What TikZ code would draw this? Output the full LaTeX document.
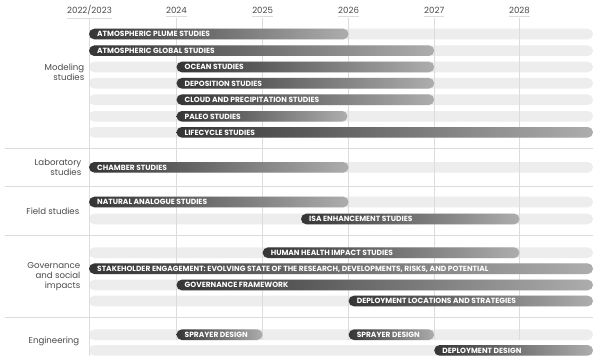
\documentclass[tikz,border=0pt]{standalone}
\usepackage{fontspec}
\setmainfont{Poppins}
\definecolor{trackgray}{HTML}{EDEDED}
\definecolor{gridgray}{HTML}{DCDCDC}
\definecolor{bardark}{HTML}{353535}
\definecolor{barlight}{HTML}{ADADAD}
\definecolor{labgray}{HTML}{4A4A4A}
\tikzset{
  trackfill/.style={fill=trackgray, rounded corners=5.3pt},
  barshade/.style={left color=bardark, right color=barlight, rounded corners=5.3pt},
  barlabel/.style={anchor=west, inner sep=0pt, text=white, font=\fontsize{7.5}{8}\selectfont\bfseries},
  yearlabel/.style={inner sep=0pt, text=labgray, font=\fontsize{8.6}{10}\selectfont},
  catlabel/.style={anchor=east, align=right, inner sep=0pt, text=labgray, font=\fontsize{8.6}{9.6}\selectfont},
  gridline/.style={draw=gridgray, line width=0.8pt},
}
\newcommand\tracks[1]{\fill[trackfill] (89,#1-5.3) rectangle (593,#1+5.3);}
\newcommand\ganttbar[5]{%
  \shade[barshade] (#3,#2-5.3) rectangle (#4,#2+5.3);
  \node[barlabel] (#1) at (#3+8,#2+0.3) {#5};}
\begin{document}
\begin{tikzpicture}[x=1pt,y=-1pt]
\useasboundingbox (0,0) rectangle (600,361);
\fill[white] (0,0) rectangle (600,361);
% years
\foreach \nm/\xx/\yy in {ya/89.5/2022\slash 2023, yb/176.5/2024, yc/262.6/2025, yd/348.6/2026, ye/434.2/2027, yf/519.5/2028}{
  \node[yearlabel] (\nm) at (\xx,10.5) {\yy};
  \draw[gridline, line width=0.6pt] ([yshift=-2.5pt]\nm.south west) -- ([yshift=-2.5pt]\nm.south east);
}
% tracks
\foreach \yy in {34,50.7,67,83.3,99.7,116.3,132.3,167.3,202,219,252.7,268.7,285,301,334.7,350.4}{\tracks{\yy}}
% grid
\foreach \xx in {176.5,262.6,348.6,434.2,519.5}{\draw[gridline] (\xx,18) -- (\xx,340);}
\draw[gridline] (89.5,18) -- (89.5,356);
\foreach \yy in {148,186.7,235.7,317.3}{\draw[gridline] (5,\yy) -- (593,\yy);}
% categories
\node[catlabel] (c1) at (84.5,72) {Modeling\\studies};
\node[catlabel] (c2) at (81.5,167.5) {Laboratory\\studies};
\node[catlabel] (c3) at (79.5,211) {Field studies};
\node[catlabel] (c4) at (80.5,276.5) {Governance\\and social\\impacts};
\node[catlabel] (c5) at (79.5,341.5) {Engineering};
% bars
\ganttbar{b1}{34}{89}{348.6}{ATMOSPHERIC PLUME STUDIES}
\ganttbar{b2}{50.7}{89}{434.2}{ATMOSPHERIC GLOBAL STUDIES}
\ganttbar{b3}{67}{176.5}{434.2}{OCEAN STUDIES}
\ganttbar{b4}{83.3}{176.5}{434.2}{DEPOSITION STUDIES}
\ganttbar{b5}{99.7}{176.5}{434.2}{CLOUD AND PRECIPITATION STUDIES}
\ganttbar{b6}{116.3}{176.5}{347.5}{PALEO STUDIES}
\ganttbar{b7}{132.3}{176.5}{593}{LIFECYCLE STUDIES}
\ganttbar{b8}{167.3}{89}{348.6}{CHAMBER STUDIES}
\ganttbar{b9}{202}{89}{348.6}{NATURAL ANALOGUE STUDIES}
\ganttbar{b10}{219}{301}{519.5}{ISA ENHANCEMENT STUDIES}
\ganttbar{b11}{252.7}{262.6}{519.5}{HUMAN HEALTH IMPACT STUDIES}
\ganttbar{b12}{268.7}{89}{593}{STAKEHOLDER ENGAGEMENT: EVOLVING STATE OF THE RESEARCH, DEVELOPMENTS, RISKS, AND POTENTIAL}
\ganttbar{b13}{285}{176.5}{593}{GOVERNANCE FRAMEWORK}
\ganttbar{b14}{301}{348.6}{593}{DEPLOYMENT LOCATIONS AND STRATEGIES}
\ganttbar{b15}{334.7}{176.5}{262.6}{SPRAYER DESIGN}
\ganttbar{b16}{334.7}{348.6}{434.2}{SPRAYER DESIGN}
\ganttbar{b17}{350.4}{434.2}{593}{DEPLOYMENT DESIGN}
\end{tikzpicture}
\end{document}
